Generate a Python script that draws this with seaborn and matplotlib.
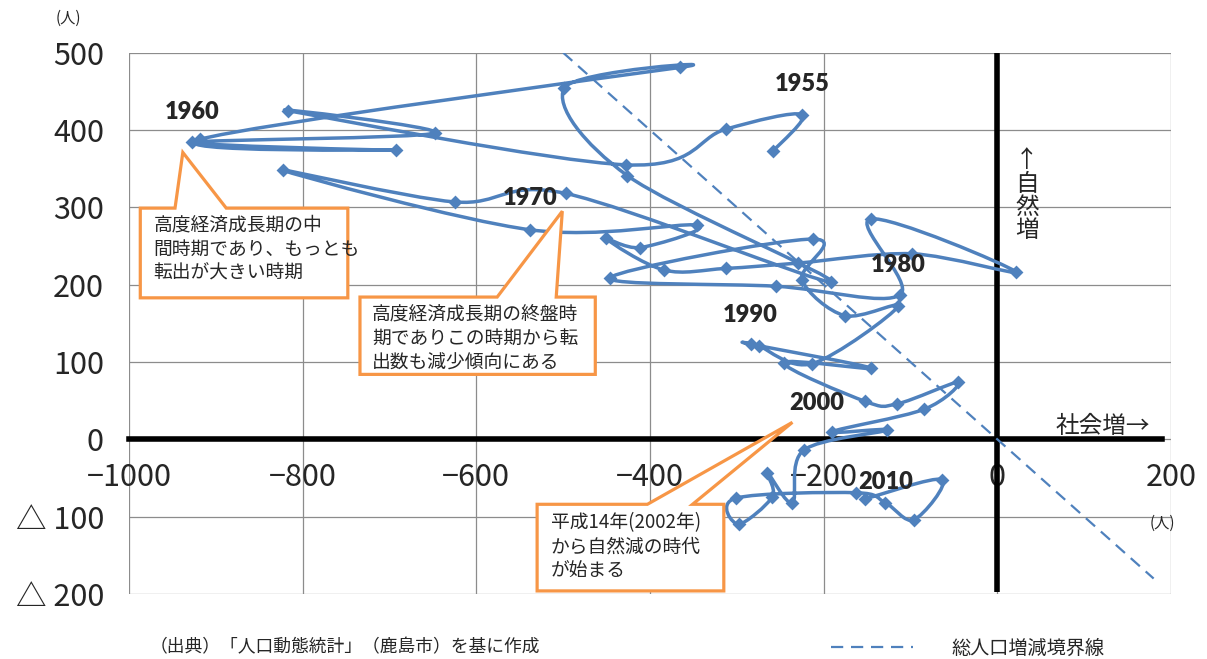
import matplotlib
matplotlib.use('Agg')
import matplotlib.pyplot as plt
from matplotlib.path import Path
from matplotlib.patches import PathPatch, Polygon
import seaborn as sns
import numpy as np
import pandas as pd

# 社会増減 (x) と 自然増減 (y) の軌跡（1954年から順に）
social = [-258, -225, -313, -428, -817, -648, -927, -693, -918, -365,
          -499, -426, -192, -497, -625, -823, -538, -346, -411, -451,
          -384, -313, -229, -98, 21, -146, -112, -255, -446, -212,
          -225, -176, -114, -213, -275, -284, -145, -246, -152, -115,
          -45, -84, -190, -127, -223, -236, -265, -259, -298, -301,
          -163, -129, -96, -64, -152]
natural = [373, 420, 401, 355, 425, 396, 384, 374, 388, 481,
           454, 341, 204, 318, 307, 348, 271, 277, 248, 260,
           219, 221, 228, 240, 217, 285, 187, 198, 209, 259,
           206, 160, 172, 98, 121, 123, 92, 99, 49, 46,
           74, 39, 10, 12, -14, -82, -43, -74, -110, -76,
           -69, -82, -104, -52, -77]

# 年ラベル
label_years = ['1955', '1960', '1970', '1980', '1990', '2000', '2010']
label_x = [-225, -927, -538, -114, -284, -208, -128]
label_y = [459, 423, 312, 226, 161, 47, -55]

# 総人口増減境界線 (社会増 + 自然増 = 0)
boundary_x = [-500, 180]
boundary_y = [500, -180]

x_ticks = [-1000, -800, -600, -400, -200, 0, 200]
x_tick_labels = ['−1000', '−800', '−600', '−400', '−200', '0', '200']
y_ticks = [-200, -100, 0, 100, 200, 300, 400, 500]
y_tick_labels = ['△ 200', '△ 100', '0', '100', '200', '300', '400', '500']

notes = ['高度経済成長期の中\n間時期であり、もっとも\n転出が大きい時期',
         '高度経済成長期の終盤時\n期でありこの時期から転\n出数も減少傾向にある',
         '平成14年(2002年)\nから自然減の時代\nが始まる']

BLUE = '#4F81BD'
ORANGE = '#F79646'

sns.set_style('white')
plt.rcParams['font.family'] = ['Noto Sans CJK JP', 'DejaVu Sans']

fig = plt.figure(figsize=(12.07, 6.59), dpi=100)
ax = fig.add_axes([129 / 1207, 1 - 594 / 659, 1042 / 1207, 541.3 / 659])
ax.set_xlim(-1000, 200)
ax.set_ylim(-200, 500)

# グリッド
ax.set_xticks(x_ticks)
ax.set_yticks(y_ticks)
ax.grid(True, color='#8c8c8c', lw=0.9)
ax.set_axisbelow(True)
for s in ['top', 'right', 'left']:
    ax.spines[s].set_visible(False)
ax.spines['bottom'].set_position(('data', 0))
ax.spines['bottom'].set_color('black')
ax.spines['bottom'].set_linewidth(4)
ax.spines['bottom'].set_bounds(-1000, 190)
ax.vlines(0, -198, 500, color='black', lw=4, zorder=2)

ax.set_xticklabels(x_tick_labels, fontsize=22)
ax.set_yticklabels(y_tick_labels, fontsize=22)
ax.tick_params(axis='x', length=0, pad=16)
ax.tick_params(axis='y', length=0, pad=18)

# 境界線
sns.lineplot(x=boundary_x, y=boundary_y, ax=ax, color=BLUE, lw=1.6,
             dashes=False, label='総人口増減境界線', zorder=3)
ax.lines[-1].set_dashes((5.5, 3.5))

# 平滑線（Excelのスムージングに相当するベジェ曲線）
pts = np.column_stack([social, natural]).astype(float)
n = len(pts)
verts = [pts[0]]
codes = [Path.MOVETO]
for i in range(n - 1):
    p0 = pts[i - 1] if i > 0 else pts[i]
    p3 = pts[i + 2] if i + 2 < n else pts[i + 1]
    c1 = pts[i] + (pts[i + 1] - p0) / 6
    c2 = pts[i + 1] - (p3 - pts[i]) / 6
    verts += [c1, c2, pts[i + 1]]
    codes += [Path.CURVE4] * 3
ax.add_patch(PathPatch(Path(verts, codes), fill=False, edgecolor=BLUE,
                       lw=2.5, zorder=4, capstyle='round', joinstyle='round'))

df = pd.DataFrame({'social': social, 'natural': natural})
sns.scatterplot(data=df, x='social', y='natural', ax=ax, marker='D', s=50,
                color=BLUE, linewidth=0, zorder=5)
ax.set_xlabel('')
ax.set_ylabel('')

for yr, lx, ly in zip(label_years, label_x, label_y):
    ax.text(lx, ly, yr, fontsize=17, fontweight='heavy', family=['Lato', 'DejaVu Sans'],
            ha='center', va='center', zorder=6)

ax.text(122, 16, '社会増→', fontsize=17, ha='center', va='center', zorder=6)
ax.text(34, 315, '↑\n自\n然\n増', fontsize=17, ha='center', va='center',
        linespacing=1.02, zorder=6)

# 吹き出し
callouts = [
    [(-987, 183), (-748, 183), (-748, 299), (-888, 299), (-938, 371), (-947, 299), (-987, 299)],
    [(-734, 84), (-463, 84), (-463, 184), (-508, 184), (-501, 295), (-576, 184), (-734, 184)],
    [(-530, -196), (-315, -196), (-315, -84), (-351, -84), (-236, 22), (-403, -84), (-530, -84)],
]
text_pos = [(-972, 246), (-720, 130), (-514, -139)]
for poly, (tx, ty), note in zip(callouts, text_pos, notes):
    ax.add_patch(Polygon(poly, closed=True, facecolor='white', edgecolor=ORANGE,
                         lw=2.3, zorder=7, joinstyle='miter'))
    ax.text(tx, ty, note, fontsize=13.5, ha='left', va='center', linespacing=1.2, zorder=8)

# 単位・出典・凡例
fig.text(68 / 1207, 1 - 18 / 659, '(人)', fontsize=11, ha='center', va='center')
fig.text(1162 / 1207, 1 - 523 / 659, '(人)', fontsize=11, ha='center', va='center')
fig.text(150 / 1207, 1 - 647 / 659, '（出典）「人口動態統計」（鹿島市）を基に作成',
         fontsize=12.8, ha='left', va='center')
ax.get_legend().remove()
handles = [ax.lines[-1]]
fig.legend(handles, ['総人口増減境界線'], loc='center left',
           bbox_to_anchor=(831 / 1207, 1 - 648 / 659), frameon=False,
           fontsize=13.8, handlelength=4.3, handletextpad=2.0,
           borderpad=0, borderaxespad=0)

fig.savefig('out.png', dpi=100)
